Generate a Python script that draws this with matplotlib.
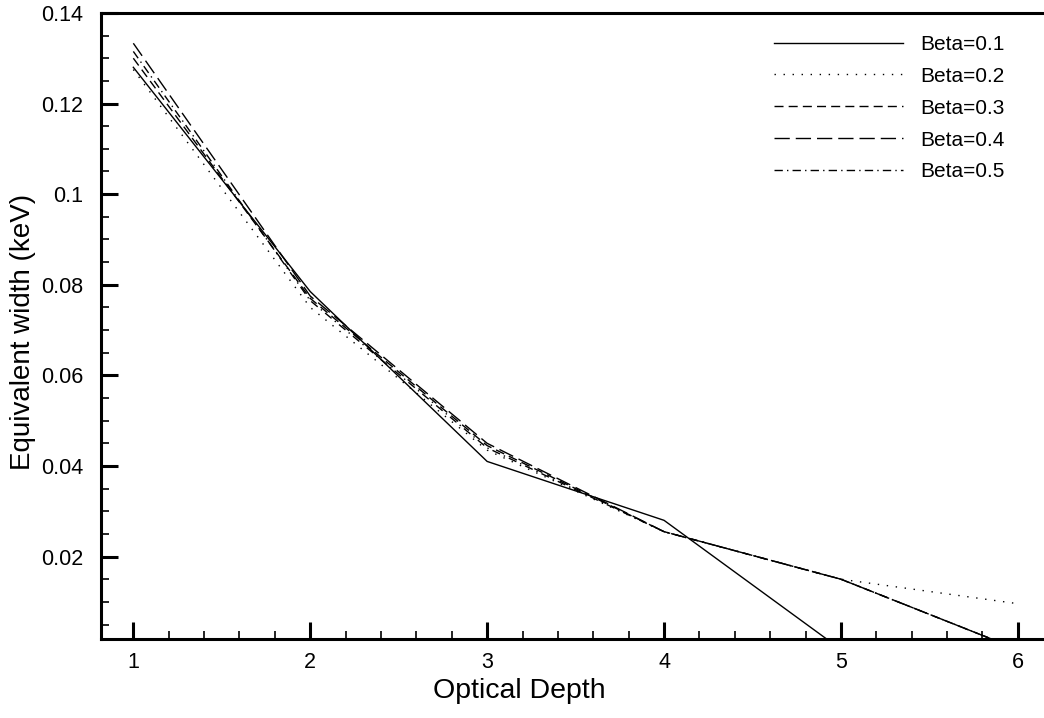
import numpy as np
from matplotlib import pyplot as plt
from matplotlib.ticker import MultipleLocator

plt.rcParams['font.family'] = ['Liberation Sans', 'DejaVu Sans']

depth = [1, 2, 3, 4, 5, 6]
labels = ['Beta=0.1', 'Beta=0.2', 'Beta=0.3', 'Beta=0.4', 'Beta=0.5']
beta_01 = [0.1280, 0.0785, 0.0410, 0.0280, -0.0005, -0.0300]
beta_02 = [0.1275, 0.0750, 0.0435, 0.0255, 0.0150, 0.0096]
beta_03 = [0.1300, 0.0770, 0.0445, 0.0255, 0.0150, -0.0005]
beta_04 = [0.1333, 0.0775, 0.0450, 0.0255, 0.0150, -0.0005]
beta_05 = [0.1315, 0.0765, 0.0440, 0.0255, 0.0150, -0.0005]

styles = ['-', (0, (1, 5.5)), (0, (6.5, 3.7)), (0, (11, 4.3)), (0, (6, 3, 1, 3))]

fig = plt.figure(figsize=(10.44, 7.18), dpi=100)
ax = fig.add_axes([0.0967, 0.110, 0.9033, 0.872])

for ys, lab, ls in zip([beta_01, beta_02, beta_03, beta_04, beta_05], labels, styles):
    ax.plot(depth, ys, color='black', linewidth=1.0, linestyle=ls, label=lab)

ax.set_xlim(0.817, 6.148)
ax.set_ylim(0.0018, 0.14)
ax.xaxis.set_major_locator(MultipleLocator(1))
ax.xaxis.set_minor_locator(MultipleLocator(0.2))
ax.yaxis.set_minor_locator(MultipleLocator(0.005))
ax.set_yticks([0.02, 0.04, 0.06, 0.08, 0.1, 0.12, 0.14])
ax.set_yticklabels(['0.02', '0.04', '0.06', '0.08', '0.1', '0.12', '0.14'])

ax.spines['right'].set_visible(False)
for s in ['left', 'bottom', 'top']:
    ax.spines[s].set_linewidth(2.2)

ax.tick_params(which='major', direction='in', length=12, width=2.2, labelsize=15.5)
ax.tick_params(axis='y', which='major', pad=13)
ax.tick_params(axis='x', which='major', pad=9)
ax.tick_params(which='minor', direction='in', length=6, width=1.2)
ax.tick_params(top=False, right=False, which='both')

ax.set_xlabel('Optical Depth', fontsize=20.5)
ax.xaxis.set_label_coords(0.444, -0.062)
ax.set_ylabel('Equivalent width (keV)', fontsize=20)
ax.yaxis.set_label_coords(-0.0685, 0.49)

ax.legend(loc='upper right', bbox_to_anchor=(0.978, 0.995), frameon=False, fontsize=15,
          handlelength=6.2, handletextpad=0.8, labelspacing=0.62)

fig.savefig('out.png', dpi=100)
plt.close(fig)
